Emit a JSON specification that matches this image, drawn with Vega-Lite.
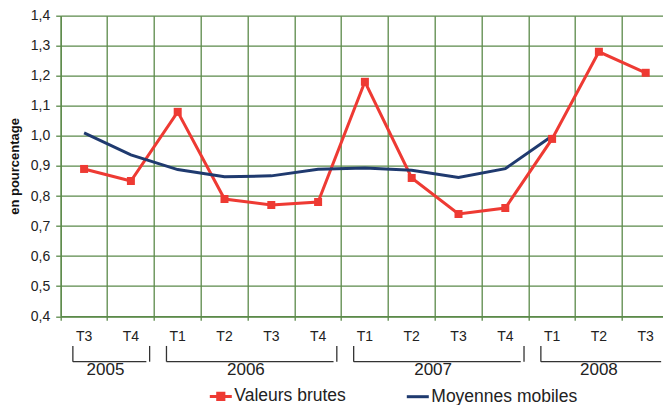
{
  "$schema": "https://vega.github.io/schema/vega-lite/v6.json",
  "width": 602.3,
  "height": 300.5,
  "autosize": {"type": "none"},
  "padding": {"left": 60.7, "top": 15.7, "right": 0, "bottom": 88.8},
  "background": "white",
  "config": {
    "view": {"stroke": null},
    "font": "Liberation Sans",
    "axisY": {
      "titleFontSize": 13, "titleFontWeight": "bold", "titleColor": "#111111", "titlePadding": 9,
      "labelOverlap": false,
      "grid": true, "gridColor": "#5b8a4a", "gridWidth": 1.3,
      "domainColor": "#5b8a4a", "domainWidth": 1.3,
      "tickColor": "#5b8a4a", "tickSize": 5, "tickWidth": 1.3,
      "labelFontSize": 14, "labelColor": "#222222", "labelPadding": 6
    }
  },
  "datasets": {
    "series": [
      {"q": "2005 T3", "serie": "Valeurs brutes", "v": 0.89},
      {"q": "2005 T4", "serie": "Valeurs brutes", "v": 0.85},
      {"q": "2006 T1", "serie": "Valeurs brutes", "v": 1.08},
      {"q": "2006 T2", "serie": "Valeurs brutes", "v": 0.79},
      {"q": "2006 T3", "serie": "Valeurs brutes", "v": 0.77},
      {"q": "2006 T4", "serie": "Valeurs brutes", "v": 0.78},
      {"q": "2007 T1", "serie": "Valeurs brutes", "v": 1.18},
      {"q": "2007 T2", "serie": "Valeurs brutes", "v": 0.86},
      {"q": "2007 T3", "serie": "Valeurs brutes", "v": 0.74},
      {"q": "2007 T4", "serie": "Valeurs brutes", "v": 0.76},
      {"q": "2008 T1", "serie": "Valeurs brutes", "v": 0.99},
      {"q": "2008 T2", "serie": "Valeurs brutes", "v": 1.28},
      {"q": "2008 T3", "serie": "Valeurs brutes", "v": 1.21},
      {"q": "2005 T3", "serie": "Moyennes mobiles", "v": 1.01},
      {"q": "2005 T4", "serie": "Moyennes mobiles", "v": 0.937},
      {"q": "2006 T1", "serie": "Moyennes mobiles", "v": 0.888},
      {"q": "2006 T2", "serie": "Moyennes mobiles", "v": 0.864},
      {"q": "2006 T3", "serie": "Moyennes mobiles", "v": 0.867},
      {"q": "2006 T4", "serie": "Moyennes mobiles", "v": 0.889},
      {"q": "2007 T1", "serie": "Moyennes mobiles", "v": 0.893},
      {"q": "2007 T2", "serie": "Moyennes mobiles", "v": 0.886},
      {"q": "2007 T3", "serie": "Moyennes mobiles", "v": 0.862},
      {"q": "2007 T4", "serie": "Moyennes mobiles", "v": 0.891},
      {"q": "2008 T1", "serie": "Moyennes mobiles", "v": 1.0}
    ],
    "years": [
      {"year": "2005", "first": "2005 T3", "last": "2005 T4", "mid": "2005 T4", "centre": "boundary"},
      {"year": "2006", "first": "2006 T1", "last": "2006 T4", "mid": "2006 T3", "centre": "boundary"},
      {"year": "2007", "first": "2007 T1", "last": "2007 T4", "mid": "2007 T3", "centre": "boundary"},
      {"year": "2008", "first": "2008 T1", "last": "2008 T3", "mid": "2008 T2", "centre": "band"}
    ]
  },
  "layer": [
    {
      "data": {"name": "series"},
      "mark": {"type": "line", "strokeWidth": 3, "strokeJoin": "miter"},
      "encoding": {
        "x": {
          "field": "q", "type": "ordinal",
          "scale": {
            "domain": ["2005 T3","2005 T4","2006 T1","2006 T2","2006 T3","2006 T4","2007 T1","2007 T2","2007 T3","2007 T4","2008 T1","2008 T2","2008 T3"],
            "range": [0, 608.4], "paddingInner": 0, "paddingOuter": 0
          },
          "axis": {
            "title": null, "bandPosition": 0, "labelAngle": 0,
            "labelExpr": "split(datum.value, ' ')[1]",
            "grid": true, "gridColor": "#5b8a4a", "gridWidth": 1.3,
            "domainColor": "#5b8a4a", "domainWidth": 1.3,
            "tickColor": "#5b8a4a", "tickSize": 4, "tickWidth": 1.3,
            "labelFontSize": 14, "labelColor": "#222222", "labelPadding": 9,
            "labelOverlap": false
          }
        },
        "y": {
          "field": "v", "type": "quantitative",
          "scale": {"domain": [0.4, 1.4], "nice": false, "zero": false},
          "axis": {
            "title": "en pourcentage",
            "values": [0.4,0.5,0.6,0.7,0.8,0.9,1.0,1.1,1.2,1.3,1.4],
            "labelExpr": "replace(format(datum.value, '.1f'), '.', ',')"
          }
        },
        "color": {
          "field": "serie", "type": "nominal",
          "scale": {"domain": ["Valeurs brutes", "Moyennes mobiles"], "range": ["#ee3a33", "#1f3a6f"]},
          "legend": {
            "title": null, "orient": "none", "direction": "horizontal",
            "legendX": 147.6, "legendY": 368,
            "symbolSize": 484, "symbolStrokeWidth": 3,
            "labelFontSize": 17.5, "labelColor": "#222222", "labelOffset": 1,
            "columnPadding": 54, "padding": 0,
            "encode": {
              "symbols": {
                "update": {
                  "shape": {"signal": "datum.value == 'Valeurs brutes' ? 'M-1,0L1,0M-0.28,-0.28L0.28,-0.28L0.28,0.28L-0.28,0.28Z' : 'M-1,0L1,0'"},
                  "fill": {"signal": "datum.value == 'Valeurs brutes' ? '#ee3a33' : 'transparent'"}
                }
              }
            }
          }
        },
        "order": {"field": "q"}
      }
    },
    {
      "data": {"name": "series"},
      "transform": [{"filter": "datum.serie == 'Valeurs brutes'"}],
      "mark": {"type": "point", "shape": "square", "filled": true, "size": 64, "color": "#ee3a33", "opacity": 1},
      "encoding": {
        "x": {"field": "q", "type": "ordinal"},
        "y": {"field": "v", "type": "quantitative", "axis": {"title": "en pourcentage", "values": [0.4,0.5,0.6,0.7,0.8,0.9,1.0,1.1,1.2,1.3,1.4], "labelExpr": "replace(format(datum.value, '.1f'), '.', ',')"}}
      }
    },
    {
      "data": {"name": "years"},
      "mark": {"type": "rule", "color": "#333333", "strokeWidth": 1.3},
      "encoding": {
        "x": {"field": "first", "type": "ordinal", "bandPosition": 0.26},
        "x2": {"field": "last", "bandPosition": 0.83},
        "y": {"datum": 0.2486, "type": "quantitative", "axis": {"title": "en pourcentage", "values": [0.4,0.5,0.6,0.7,0.8,0.9,1.0,1.1,1.2,1.3,1.4], "labelExpr": "replace(format(datum.value, '.1f'), '.', ',')"}}
      }
    },
    {
      "data": {"name": "years"},
      "mark": {"type": "rule", "color": "#333333", "strokeWidth": 1.3},
      "encoding": {
        "x": {"field": "first", "type": "ordinal", "bandPosition": 0.26},
        "y": {"datum": 0.301, "type": "quantitative", "axis": {"title": "en pourcentage", "values": [0.4,0.5,0.6,0.7,0.8,0.9,1.0,1.1,1.2,1.3,1.4], "labelExpr": "replace(format(datum.value, '.1f'), '.', ',')"}},
        "y2": {"datum": 0.2486}
      }
    },
    {
      "data": {"name": "years"},
      "mark": {"type": "rule", "color": "#333333", "strokeWidth": 1.3},
      "encoding": {
        "x": {"field": "last", "type": "ordinal", "bandPosition": 0.9},
        "y": {"datum": 0.301, "type": "quantitative", "axis": {"title": "en pourcentage", "values": [0.4,0.5,0.6,0.7,0.8,0.9,1.0,1.1,1.2,1.3,1.4], "labelExpr": "replace(format(datum.value, '.1f'), '.', ',')"}},
        "y2": {"datum": 0.2486}
      }
    },
    {
      "data": {"name": "years"},
      "transform": [{"filter": "datum.centre == 'boundary'"}],
      "mark": {"type": "text", "fontSize": 17, "color": "#222222", "baseline": "middle", "dx": -2},
      "encoding": {
        "x": {"field": "mid", "type": "ordinal", "bandPosition": 0},
        "y": {"datum": 0.221, "type": "quantitative", "axis": {"title": "en pourcentage", "values": [0.4,0.5,0.6,0.7,0.8,0.9,1.0,1.1,1.2,1.3,1.4], "labelExpr": "replace(format(datum.value, '.1f'), '.', ',')"}},
        "text": {"field": "year"}
      }
    },
    {
      "data": {"name": "years"},
      "transform": [{"filter": "datum.centre == 'band'"}],
      "mark": {"type": "text", "fontSize": 17, "color": "#222222", "baseline": "middle"},
      "encoding": {
        "x": {"field": "mid", "type": "ordinal", "bandPosition": 0.5},
        "y": {"datum": 0.221, "type": "quantitative", "axis": {"title": "en pourcentage", "values": [0.4,0.5,0.6,0.7,0.8,0.9,1.0,1.1,1.2,1.3,1.4], "labelExpr": "replace(format(datum.value, '.1f'), '.', ',')"}},
        "text": {"field": "year"}
      }
    }
  ]
}
